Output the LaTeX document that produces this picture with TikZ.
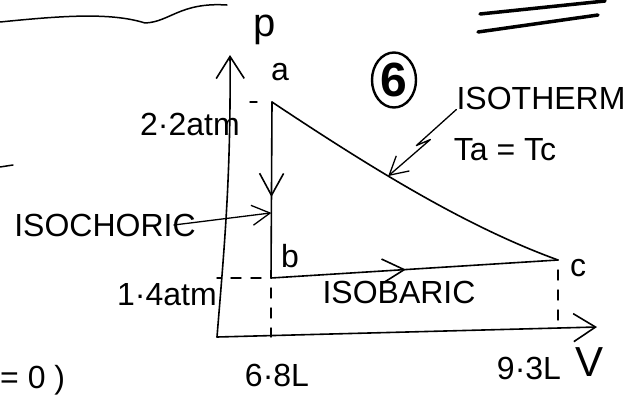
\documentclass[tikz,border=0pt]{standalone}
\usepackage{fontspec}
\setmainfont{Liberation Sans}
\usetikzlibrary{arrows.meta,positioning,calc,decorations.markings,shapes.geometric}

\begin{document}
\begin{tikzpicture}[x=1pt,y=-1pt,font=\fontsize{32}{36}\selectfont,line cap=round,line join=round]
\tikzset{ax/.style={line width=1.6pt,-{Straight Barb[length=22pt,width=28pt,line width=1.6pt]}}, proc/.style={line width=1.6pt}, guide/.style={line width=1.4pt,dash pattern=on 10pt off 10pt}, lbl/.style={inner sep=0pt}, pointer/.style={line width=1.3pt,-{Straight Barb[length=18pt,width=20pt,line width=1.3pt]}}, mid/.style={postaction={decorate},decoration={markings,mark=at position #1 with {\arrow{Straight Barb[length=22pt,width=24pt,line width=1.6pt]}}}}, scrib/.style={line width=1.5pt}}
\useasboundingbox (0,0) rectangle (628,402);
% corners of the cycle and the axes
\coordinate (O) at (217,337);
\coordinate (pt) at (230,55);
\coordinate (vt) at (597,327);
\coordinate (a) at (272,102);
\coordinate (b) at (271,278);
\coordinate (c) at (558,260);
\draw[ax] (O) .. controls (224,250) and (231,180) .. (pt);
\draw[ax] (O) -- (vt);
% the three processes
\draw[proc,mid=0.54] (a) -- coordinate[pos=0.63] (hb) (b);
\draw[proc,mid=0.47] (b) -- (c);
\draw[proc] (a) .. controls (380,174) and (470,228) .. (c) coordinate[pos=0.38] (hit);
% labels
\node[lbl,font=\fontsize{40}{44}\selectfont] (P) at (265,30) {p};
\node[lbl] (la) at (280,72) {a};
\node[lbl] (lb) at (290,256) {b};
\node[lbl] (lc) at (578,268) {c};
\node[lbl] (p22) at (190,124) {2·2atm};
\node[lbl] (p14) at (167,295) {1·4atm};
\node[lbl] (v68) at (277,375) {6·8L};
\node[lbl] (v93) at (529,368) {9·3L};
\node[lbl,font=\fontsize{42}{46}\selectfont] (V) at (589,362) {V};
\node[lbl] (iso) at (541,98) {ISOTHERM};
\node[lbl] (tt) at (505,150) {Ta = Tc};
\node[lbl] (isoc) at (105,225) {ISOCHORIC};
\node[lbl] (isob) at (399,292) {ISOBARIC};
\node[draw,ellipse,line width=2.4pt,minimum width=44pt,minimum height=55pt,inner sep=0pt,font=\fontsize{48}{50}\selectfont\bfseries] (six) at (394,80) {6};
\node[lbl,anchor=west] (eq) at (0,380) {= 0 )};
% pointers and guide lines
\draw[pointer] (iso.south west) -- ++(-40,36) -- ++(14,-6) -- (hit);
\draw[pointer] ([xshift=-22pt]isoc.east) -- (hb);
\draw[guide,dash pattern=on 7pt off 15pt,dash phase=7pt] (a) -- (a -| p22.east);
\draw[guide,dash phase=10pt] (b) -- (b -| p14.east);
\draw[guide,dash phase=10pt] (b) -- (b |- O);
\draw[guide,dash phase=10pt] (c) -- (c |- vt);
% bits of the page around the sketch
\draw[scrib] (0,22) .. controls (60,16) and (110,12) .. (145,23) .. controls (170,22) and (180,2) .. (227,5);
\draw[scrib] (0,167) -- (13,165);
\draw[line width=3.5pt] (480,14) -- (605,1);
\draw[line width=3.5pt] (478,32) -- (598,15);
\end{tikzpicture}
\end{document}
